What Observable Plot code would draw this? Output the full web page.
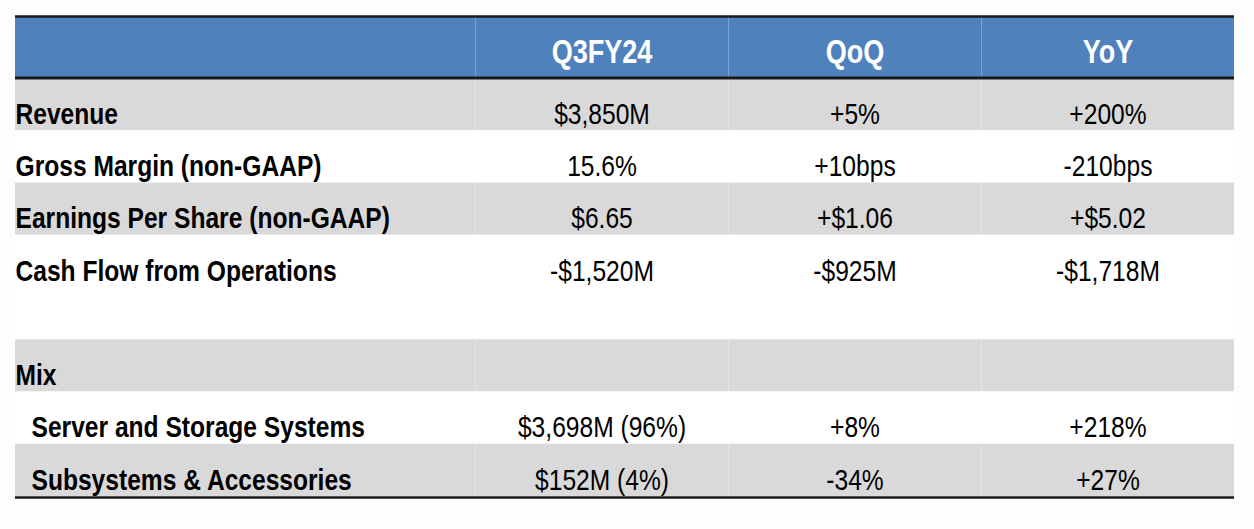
<!DOCTYPE html>
<html>
<head>
<meta charset="utf-8">
<script src="https://cdn.jsdelivr.net/npm/d3@7"></script>
<script src="https://cdn.jsdelivr.net/npm/@observablehq/plot@0.6"></script>
<style>
  html, body { margin: 0; padding: 0; background: #fdfdfd; }
  #chart svg { display: block; }
</style>
</head>
<body>
<div id="chart"></div>
<script>
// ---- data ----
const headers = ["", "Q3FY24", "QoQ", "YoY"];
const metrics = ["Revenue", "Gross Margin (non-GAAP)", "Earnings Per Share (non-GAAP)", "Cash Flow from Operations", "", "Mix", "Server and Storage Systems", "Subsystems & Accessories"];
const q3Values = ["$3,850M", "15.6%", "$6.65", "-$1,520M", "", "", "$3,698M (96%)", "$152M (4%)"];
const qoqValues = ["+5%", "+10bps", "+$1.06", "-$925M", "", "", "+8%", "-34%"];
const yoyValues = ["+200%", "-210bps", "+$5.02", "-$1,718M", "", "", "+218%", "+27%"];
const indented = [false, false, false, false, false, false, true, true];
const shaded = [true, false, true, false, false, true, false, true];

// ---- layout ----
const W = 1254, H = 529;
const colEdges = [15, 475, 728, 981, 1234];
const headerTop = 16, headerBottom = 78;
const tableBottom = 496;
const rowH = (tableBottom - headerBottom) / metrics.length;

const rows = metrics.map((m, i) => ({
  i, metric: m, indent: indented[i], shaded: shaded[i],
  y1: headerBottom + i * rowH, y2: headerBottom + (i + 1) * rowH,
  values: [q3Values[i], qoqValues[i], yoyValues[i]]
}));
const cells = rows.flatMap(r => r.values.map((v, j) => ({
  text: v, x: (colEdges[j + 1] + colEdges[j + 2]) / 2, y: r.y2 - 7
})));
const headerCells = headers.map((h, j) => ({
  text: h, x: (colEdges[j] + colEdges[j + 1]) / 2, y: headerBottom - 16
})).filter(d => d.text);
const dividers = rows.filter(r => r.shaded).flatMap(r =>
  colEdges.slice(1, 4).map(x => ({x, y1: r.y1, y2: r.y2})));

const font = "'Liberation Sans', Arial, sans-serif";

const chart = Plot.plot({
  width: W, height: H,
  margin: 0,
  x: {domain: [0, W], range: [0, W], axis: null},
  y: {domain: [0, H], range: [0, H], axis: null},
  style: {background: "#fdfdfd", fontFamily: font},
  marks: [
    Plot.rect([0], {x1: colEdges[0], x2: colEdges[4], y1: headerTop, y2: headerBottom, fill: "#4f81bd"}),
    Plot.rect(rows, {x1: colEdges[0], x2: colEdges[4], y1: "y1", y2: "y2", fill: d => d.shaded ? "#d9d9d9" : "#ffffff"}),
    Plot.ruleX(colEdges.slice(1, 4), {y1: headerTop, y2: headerBottom, stroke: "#7e9fce", strokeWidth: 1}),
    Plot.ruleX(dividers, {x: "x", y1: "y1", y2: "y2", stroke: "#e6e6e6", strokeWidth: 1}),
    Plot.ruleY([headerTop], {x1: colEdges[0], x2: colEdges[4], stroke: "#1a1a1a", strokeWidth: 2.5}),
    Plot.ruleY([headerBottom - 0.5], {x1: colEdges[0], x2: colEdges[4], stroke: "#1a1a1a", strokeWidth: 3}),
    Plot.ruleY([tableBottom + 1], {x1: colEdges[0], x2: colEdges[4], stroke: "#1a1a1a", strokeWidth: 2.5}),
    Plot.text(headerCells, {x: "x", y: "y", text: "text", fill: "#ffffff", fontSize: 33, fontWeight: "bold", lineAnchor: "bottom", textAnchor: "middle"}),
    Plot.text(rows.filter(r => r.metric), {x: d => colEdges[0] + (d.indent ? 16 : 0), y: d => d.y2 - 7, text: "metric", fill: "#000", fontSize: 30, fontWeight: "bold", lineAnchor: "bottom", textAnchor: "start"}),
    Plot.text(cells.filter(c => c.text), {x: "x", y: "y", text: "text", fill: "#000", fontSize: 30, lineAnchor: "bottom", textAnchor: "middle"})
  ]
});

// Condense text horizontally (narrow face like the reference), scaling about each anchor point.
d3.select(chart).selectAll("text").each(function() {
  const el = d3.select(this);
  const x = +(el.attr("x") || 0), y = +(el.attr("y") || 0);
  const t = el.attr("transform") || "";
  el.attr("x", null).attr("y", null)
    .attr("transform", `${t} translate(${x},${y}) scale(0.82,1)`);
});

document.getElementById("chart").append(chart);
</script>
</body>
</html>
